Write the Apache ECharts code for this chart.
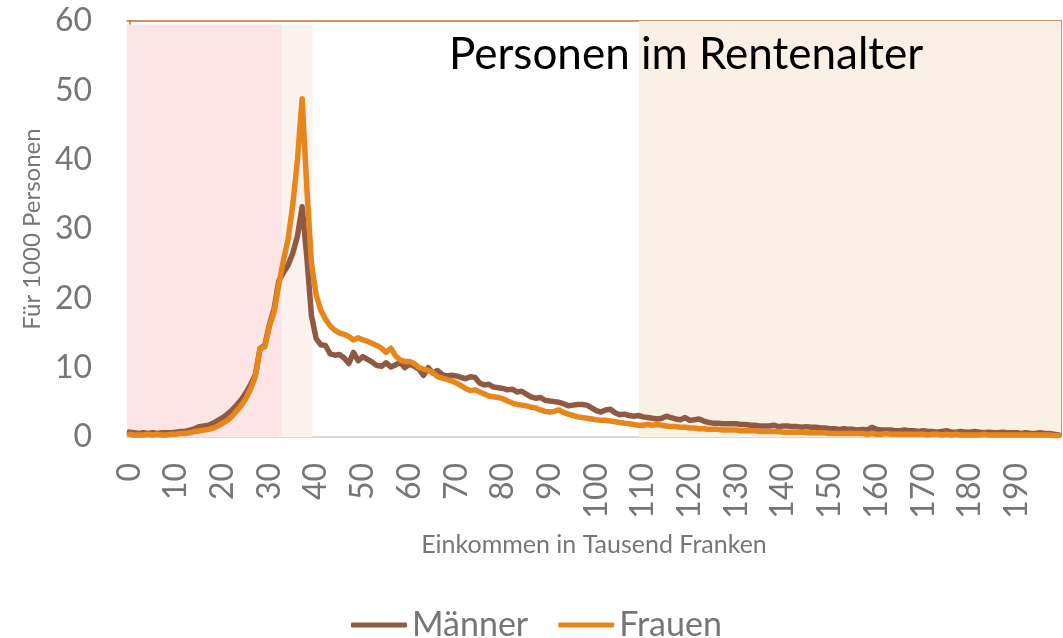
<!DOCTYPE html>
<html><head><meta charset="utf-8">
<script src="https://cdn.jsdelivr.net/npm/echarts@6/dist/echarts.min.js"></script>
<style>html,body{margin:0;padding:0;background:#fff}#c{width:1063px;height:638px}</style>
</head><body><div id="c"></div>
<script>
// Income categories (thousand francs), one per 1k
const categories = Array.from({length: 200}, (_, i) => String(i));
const titleText = 'Personen im Rentenalter';
const yTicks = [0, 10, 20, 30, 40, 50, 60];
const seriesNames = ['Männer', 'Frauen'];
const maenner = [
 0.7,0.6,0.5,0.6,0.5,0.6,0.5,0.6,0.6,0.6,
 0.7,0.8,0.8,1.0,1.2,1.5,1.6,1.7,2.0,2.4,
 2.8,3.3,3.9,4.6,5.4,6.4,7.6,9.0,12.8,13.2,
 16.2,18.5,22.5,23.7,24.8,26.5,29.0,33.2,26.0,17.5,
 14.2,13.3,13.2,12.0,11.8,11.9,11.4,10.6,12.2,11.0,
 11.6,11.2,10.8,10.3,10.2,10.7,10.1,10.4,10.8,10.0,
 10.5,10.2,9.8,8.9,10.0,9.2,9.6,9.0,8.8,8.9,
 8.8,8.6,8.4,8.7,8.6,7.8,7.5,7.6,7.2,7.1,
 7.0,6.8,6.9,6.5,6.6,6.2,5.8,5.6,5.7,5.3,
 5.2,5.1,5.0,4.8,4.5,4.6,4.7,4.7,4.6,4.2,
 3.8,3.6,3.9,4.0,3.5,3.2,3.3,3.1,3.0,3.1,
 2.9,2.8,2.7,2.6,2.7,3.0,2.8,2.6,2.5,2.8,
 2.4,2.5,2.6,2.3,2.1,2.0,2.0,1.9,1.9,1.9,
 1.9,1.8,1.8,1.7,1.7,1.6,1.6,1.6,1.7,1.5,
 1.6,1.6,1.5,1.5,1.4,1.5,1.4,1.4,1.3,1.3,
 1.2,1.2,1.1,1.2,1.1,1.1,1.0,1.1,1.0,1.4,
 1.1,1.0,1.0,1.0,0.9,0.9,1.0,0.9,0.9,0.8,
 0.9,0.8,0.8,0.7,0.8,0.9,0.7,0.7,0.8,0.7,
 0.7,0.8,0.7,0.6,0.7,0.6,0.6,0.7,0.6,0.6,
 0.6,0.5,0.6,0.5,0.5,0.6,0.5,0.5,0.4,0.3
];
const frauen = [
 0.4,0.3,0.3,0.3,0.4,0.3,0.4,0.3,0.3,0.4,
 0.4,0.5,0.5,0.6,0.8,0.9,1.0,1.1,1.3,1.6,
 2.0,2.4,3.0,3.8,4.6,5.6,7.0,8.8,12.8,13.0,
 16.0,18.0,22.0,25.5,28.5,33.5,40.0,48.8,36.0,25.0,
 20.5,18.3,17.0,16.0,15.4,15.0,14.8,14.5,14.0,14.3,
 14.0,13.8,13.5,13.2,12.8,12.2,12.8,11.7,11.1,10.9,
 10.9,10.6,10.0,9.8,9.6,9.3,8.7,8.5,8.3,8.1,
 7.8,7.4,7.0,6.7,6.8,6.5,6.2,5.9,5.8,5.7,
 5.5,5.2,4.9,4.7,4.6,4.5,4.3,4.2,3.9,3.7,
 3.6,3.7,3.9,3.5,3.3,3.1,2.9,2.8,2.7,2.6,
 2.5,2.4,2.4,2.3,2.2,2.1,2.0,1.9,1.8,1.7,
 1.7,1.8,1.7,1.8,1.7,1.6,1.5,1.5,1.4,1.4,
 1.3,1.3,1.2,1.2,1.1,1.1,1.1,1.0,1.0,1.0,
 1.0,0.9,0.9,0.9,0.9,0.8,0.8,0.8,0.8,0.8,
 0.7,0.7,0.7,0.7,0.7,0.6,0.6,0.6,0.6,0.6,
 0.5,0.5,0.5,0.5,0.5,0.5,0.5,0.5,0.4,0.5,
 0.4,0.4,0.5,0.4,0.4,0.4,0.4,0.4,0.4,0.4,
 0.4,0.3,0.4,0.4,0.3,0.4,0.3,0.4,0.3,0.3,
 0.3,0.3,0.3,0.4,0.3,0.3,0.3,0.3,0.3,0.3,
 0.3,0.3,0.3,0.3,0.3,0.3,0.3,0.3,0.2,0.2
];
// Shaded income ranges (in category index units) and their top value
const bandFrom = [-0.5, 32.8, 109.1];
const bandTo   = [32.8, 39.2, 199.5];
const bandTop  = [59.5, 59.5, 60];
const bandColors = ['#FDE4E5', '#FBF2EE', '#FBF0E6'];

const FONT = 'Lato, "Open Sans", sans-serif';
const GREY = '#767676';
const BORDER = '#C0722E';

const chart = echarts.init(document.getElementById('c'), null, {renderer: 'canvas'});
chart.setOption({
  animation: false,
  backgroundColor: '#ffffff',
  title: {
    text: titleText, left: 444, top: 28,
    textStyle: {fontFamily: FONT, fontSize: 44, fontWeight: 'normal', color: '#000000'}
  },
  legend: {
    data: seriesNames, left: 346, top: 603,
    icon: 'roundRect', itemWidth: 56, itemHeight: 5, itemGap: 30,
    textStyle: {fontFamily: FONT, fontSize: 34, color: GREY}
  },
  grid: {left: 127, right: 2, top: 21, bottom: 201, containLabel: false},
  xAxis: [{
    type: 'category', data: categories, boundaryGap: true,
    name: 'Einkommen in Tausend Franken', nameLocation: 'middle', nameGap: 95,
    nameTextStyle: {fontFamily: FONT, fontSize: 25, color: GREY},
    axisLine: {show: true, lineStyle: {color: '#D9D9D9', width: 2}},
    axisTick: {show: false},
    axisLabel: {interval: 9, rotate: 90, margin: 26, fontFamily: FONT, fontSize: 32, color: GREY},
    splitLine: {show: false}
  }, {
    type: 'value', position: 'top', min: -0.5, max: 199.5,
    axisLine: {show: true, onZero: false, lineStyle: {color: BORDER, width: 1.5}},
    axisTick: {show: false}, axisLabel: {show: false}, splitLine: {show: false}
  }],
  yAxis: [{
    type: 'value', min: 0, max: 60, interval: 10,
    name: 'Für 1000 Personen', nameLocation: 'middle', nameGap: 82, nameRotate: 90,
    nameTextStyle: {fontFamily: FONT, fontSize: 24, color: GREY},
    axisLine: {show: true, lineStyle: {color: BORDER, width: 1.5}},
    axisTick: {show: false},
    axisLabel: {margin: 35, fontFamily: FONT, fontSize: 32, color: GREY},
    splitLine: {show: false}
  }, {
    type: 'value', position: 'right', min: 0, max: 60, interval: 10,
    axisLine: {show: true, onZero: false, lineStyle: {color: BORDER, width: 1.5}},
    axisTick: {show: false}, axisLabel: {show: false}, splitLine: {show: false}
  }],
  series: [{
    name: 'bands', type: 'line', xAxisIndex: 1, yAxisIndex: 0, z: -1, data: [],
    silent: true, clip: false,
    markArea: {
      silent: true,
      data: bandFrom.map((f, i) => [
        {xAxis: f, yAxis: bandTop[i], itemStyle: {color: bandColors[i]}},
        {xAxis: bandTo[i], yAxis: 0}
      ])
    }
  }, {
    name: seriesNames[0], type: 'line', data: maenner, symbol: 'none', smooth: false,
    lineStyle: {color: '#8E5A43', width: 5.5, join: 'round', cap: 'round'},
    itemStyle: {color: '#8E5A43'}, z: 3
  }, {
    name: seriesNames[1], type: 'line', data: frauen, symbol: 'none', smooth: false,
    lineStyle: {color: '#E6861B', width: 5.5, join: 'round', cap: 'round'},
    itemStyle: {color: '#E6861B'}, z: 4
  }]
});
</script></body></html>
